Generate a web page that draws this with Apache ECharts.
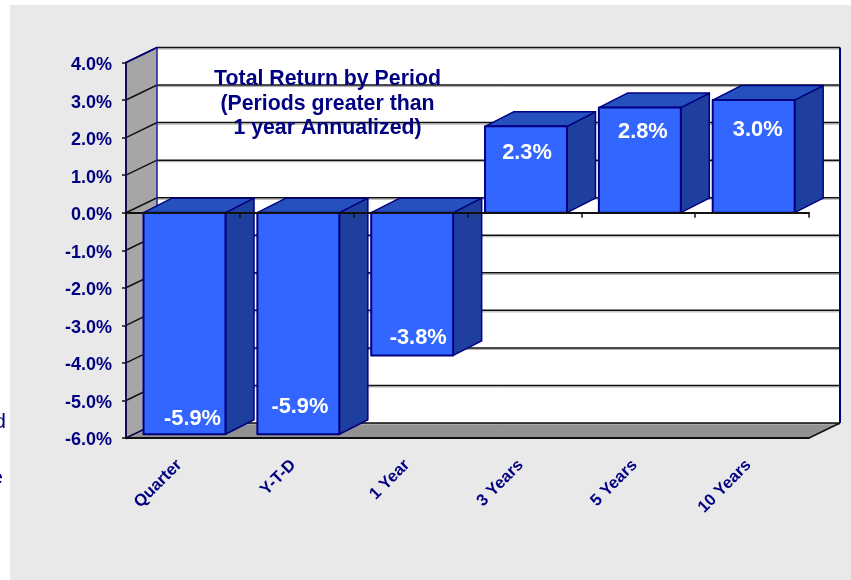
<!DOCTYPE html>
<html>
<head>
<meta charset="utf-8">
<style>html,body{margin:0;padding:0;background:#fff}#c{width:851px;height:580px}</style>
<script src="https://cdn.jsdelivr.net/npm/echarts@6/dist/echarts.min.js"></script>
</head>
<body>
<div id="c"></div>
<script>
const categories = ['Quarter', 'Y-T-D', '1 Year', '3 Years', '5 Years', '10 Years'];
const returns = [-5.9, -5.9, -3.8, 2.3, 2.8, 3.0];
const yTicks = [-6, -5, -4, -3, -2, -1, 0, 1, 2, 3, 4];
const titleLines = ['Total Return by Period', '(Periods greater than', '1 year Annualized)'];

const FONT = '"Liberation Sans", Arial, sans-serif';
const NAVY = '#000080';
const WALL = { dx: 31, dy: 15 };
const BAR = { dx: 28.5, dy: 14.5, shift: 1.6, ratio: 0.72 };
// hand placement of each data label relative to the bar end
const labelNudge = [[8, -15], [1.5, -27], [6, -17], [1, 27], [3, 24], [4, 30]];

function poly(points, fill, stroke, lineWidth) {
  return { type: 'polygon', shape: { points }, style: { fill, stroke: stroke || 'none', lineWidth: lineWidth || 0, lineJoin: 'round' } };
}
function line(points, stroke, lineWidth) {
  return { type: 'polyline', shape: { points }, style: { fill: 'none', stroke, lineWidth } };
}

function renderWalls(params, api) {
  const g = params.coordSys;
  const l = g.x, r = g.x + g.width, d = WALL;
  const top = api.coord([0, 4])[1], bot = api.coord([0, -6])[1];
  const kids = [
    poly([[l + d.dx, top - d.dy], [r + d.dx, top - d.dy], [r + d.dx, bot - d.dy], [l + d.dx, bot - d.dy]], '#ffffff'),
    poly([[l, top], [l + d.dx, top - d.dy], [l + d.dx, bot - d.dy], [l, bot]], '#a6a6a6'),
    poly([[l, bot], [l + d.dx, bot - d.dy], [r + d.dx, bot - d.dy], [r, bot]], '#929292')
  ];
  yTicks.forEach(v => {
    const y = api.coord([0, v])[1];
    const pts = [[l, y], [l + d.dx, y - d.dy], [r + d.dx, y - d.dy]];
    kids.push(line(pts.map(p => [p[0], p[1] + 1.5]), '#a8a8a8', 1));
    kids.push(line(pts, '#111111', 1.5));
  });
  kids.push(line([[l + d.dx, top - d.dy], [l + d.dx, bot - d.dy]], '#1c1ca0', 1.5));
  kids.push(line([[r + d.dx, top - d.dy], [r + d.dx, bot - d.dy]], NAVY, 2));
  kids.push(line([[l, top], [l + d.dx, top - d.dy]], NAVY, 1.5));
  kids.push(line([[l, bot], [l + d.dx, bot - d.dy]], NAVY, 1));
  kids.push(line([[r, bot], [r + d.dx, bot - d.dy]], '#111111', 1.5));
  return { type: 'group', children: kids };
}

function renderBar(params, api) {
  const i = api.value(0), v = api.value(1);
  const c = api.coord([i, v]), z = api.coord([i, 0]);
  const w = api.size([1, 0])[0] * BAR.ratio;
  const x0 = c[0] - w / 2 + BAR.shift, x1 = x0 + w;
  const yTop = Math.min(c[1], z[1]), yBot = Math.max(c[1], z[1]);
  const dx = BAR.dx, dy = BAR.dy, n = labelNudge[i];
  const stroke = NAVY, lw = 1.5;
  return {
    type: 'group',
    children: [
      poly([[x1, yTop], [x1 + dx, yTop - dy], [x1 + dx, yBot - dy], [x1, yBot]], '#1F3F9F', stroke, lw),
      poly([[x0, yTop], [x0 + dx, yTop - dy], [x1 + dx, yTop - dy], [x1, yTop]], '#2550BE', stroke, lw),
      poly([[x0, yTop], [x1, yTop], [x1, yBot], [x0, yBot]], '#3366FF', stroke, 2),
      {
        type: 'text',
        style: {
          x: (x0 + x1) / 2 + n[0],
          y: c[1] + n[1],
          text: v.toFixed(1) + '%',
          fill: '#ffffff',
          font: 'bold 21.8px ' + FONT,
          align: 'center',
          verticalAlign: 'middle'
        }
      }
    ]
  };
}

const chart = echarts.init(document.getElementById('c'), null, { renderer: 'canvas' });
chart.setOption({
  animation: false,
  backgroundColor: '#ffffff',
  graphic: {
    elements: [
      { type: 'rect', z: -10, silent: true, shape: { x: 10, y: 5, width: 841, height: 575 }, style: { fill: '#e9e9e9' } },
      { type: 'text', z: 1, x: 6, y: 422, style: { text: 'd', fill: NAVY, font: '21px ' + FONT, align: 'right', verticalAlign: 'middle' } },
      { type: 'text', z: 1, x: 3, y: 478, style: { text: 'e', fill: NAVY, font: '21px ' + FONT, align: 'right', verticalAlign: 'middle' } }
    ]
  },
  title: {
    text: titleLines.join('\n'),
    left: 322.5,
    top: 62,
    textAlign: 'center',
    z: 6,
    textStyle: { color: NAVY, fontFamily: FONT, fontWeight: 'bold', fontSize: 21.3, lineHeight: 24.5 }
  },
  grid: { left: 126, top: 62.5, width: 683, height: 375.5, containLabel: false },
  xAxis: [
    {
      type: 'category', data: categories, position: 'bottom', z: 5,
      axisLine: { onZero: false, lineStyle: { color: '#111111', width: 2 } },
      axisTick: { show: false },
      splitLine: { show: false },
      axisLabel: { interval: 0, rotate: 45, margin: 21, color: NAVY, fontFamily: FONT, fontWeight: 'bold', fontSize: 16.6, padding: [0, 5, 0, 0] }
    },
    {
      type: 'category', data: categories, position: 'top', z: 5,
      axisLine: { onZero: true, lineStyle: { color: '#111111', width: 2 } },
      axisTick: { show: true, inside: true, length: 5, lineStyle: { color: '#111111', width: 1.5 } },
      axisLabel: { show: false },
      splitLine: { show: false }
    }
  ],
  yAxis: {
    type: 'value', min: -6, max: 4, interval: 1, z: 5,
    axisLine: { show: true, onZero: false, lineStyle: { color: '#10105a', width: 2 } },
    axisTick: { show: true, length: 4, lineStyle: { color: '#111111', width: 1.5 } },
    splitLine: { show: false },
    axisLabel: {
      margin: 14, color: NAVY, fontFamily: FONT, fontWeight: 'bold', fontSize: 18,
      verticalAlign: 'top', lineHeight: 5,
      formatter: v => v.toFixed(1) + '%'
    }
  },
  series: [
    { type: 'custom', name: 'walls', z: 1, silent: true, data: [[0, 0]], encode: { x: 0, y: 1 }, renderItem: renderWalls },
    { type: 'custom', name: 'Total Return', z: 2, data: returns.map((v, i) => [i, v]), encode: { x: 0, y: 1 }, renderItem: renderBar }
  ]
});
</script>
</body>
</html>
